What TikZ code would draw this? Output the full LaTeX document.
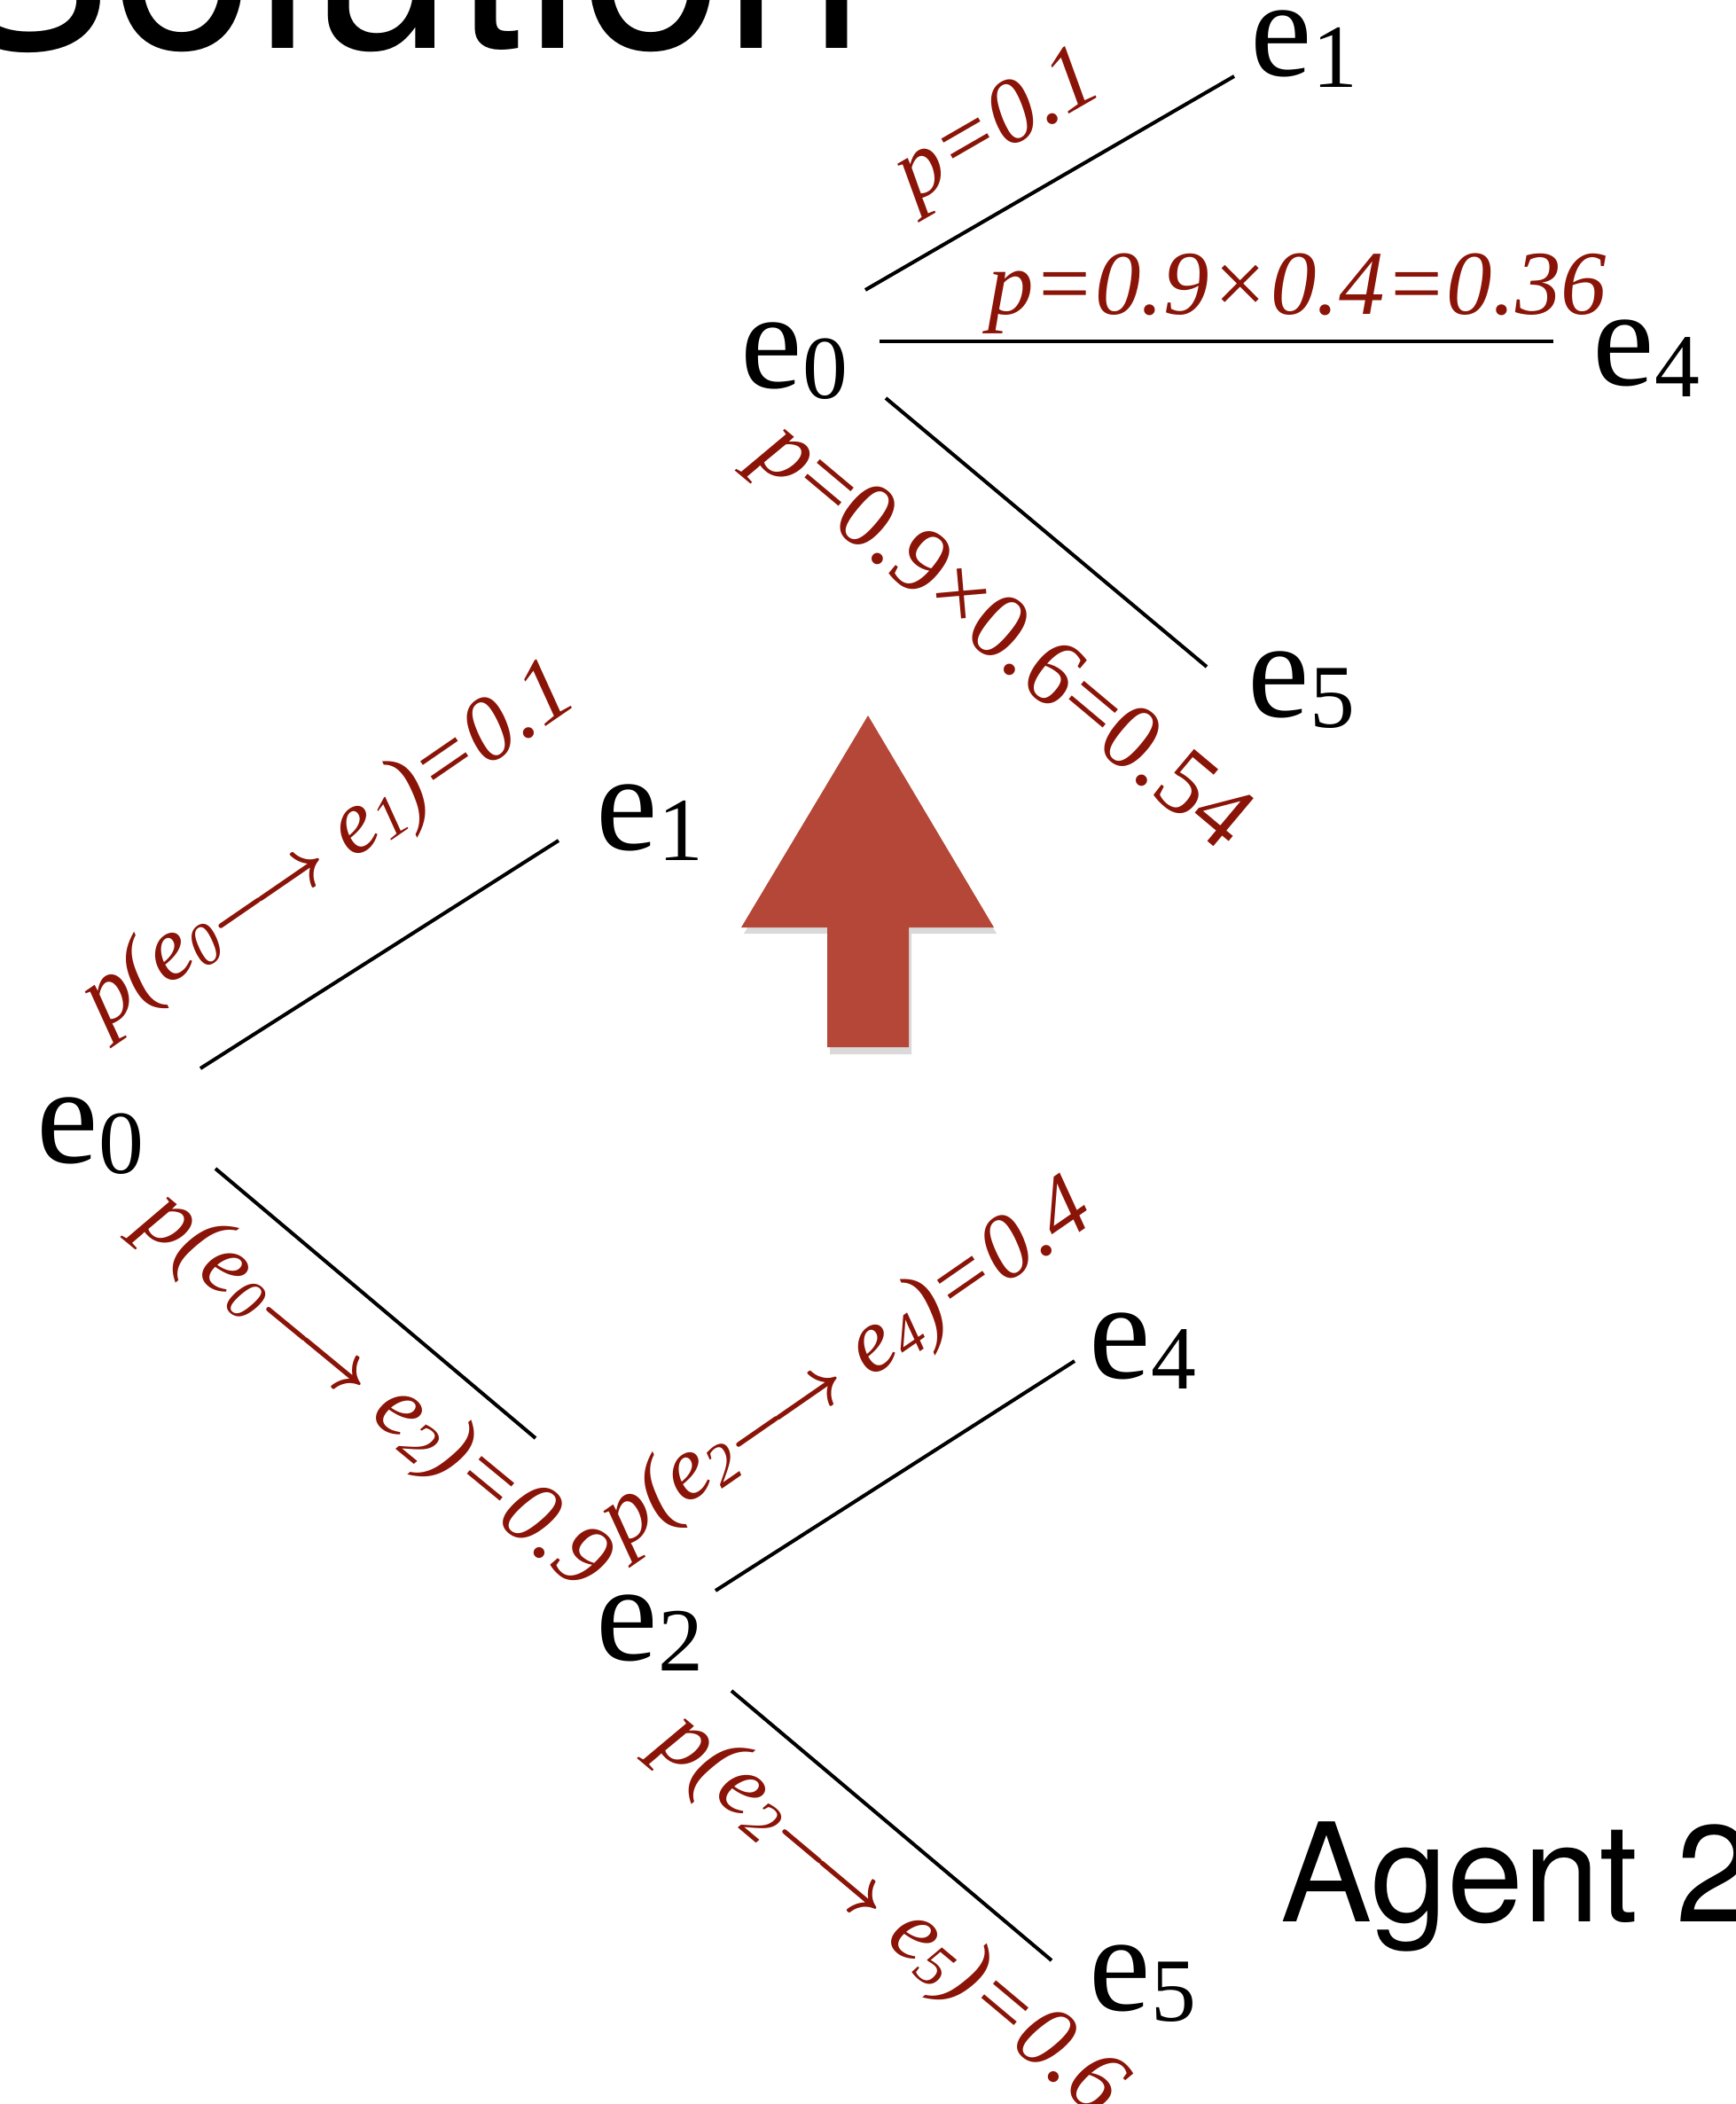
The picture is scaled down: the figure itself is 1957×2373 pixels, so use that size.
\documentclass[tikz,border=0pt]{standalone}
\usepackage{fontspec}
\setmainfont{Liberation Serif}
\newfontfamily\heros{TeX Gyre Heros}
\definecolor{probred}{RGB}{138,20,8}
\definecolor{arrowred}{RGB}{180,71,55}
\newcommand{\lo}[1]{\raisebox{-.08em}{\scalebox{.65}{#1}}}
\newcommand{\goes}{\scalebox{.92}[1]{\boldmath$\longrightarrow$}}

\begin{document}
\begin{tikzpicture}[x=0.01cm,y=-0.01cm]
\tikzstyle{every node}+=[inner sep=0pt]
\tikzstyle{ev}=[anchor=base west, font=\fontsize{44.5}{50}\selectfont]
\tikzstyle{prob}=[anchor=base, text=probred, font=\itshape\fontsize{29.3}{32}\selectfont]
\tikzstyle{edge}=[black, line width=1.15pt]
\clip (0,0) rectangle (1957,2373);

\node [anchor=base east, font=\heros\fontsize{82}{90}\selectfont] (title) at (977,55) {Solution};
\node [anchor=base west, font=\heros\fontsize{44}{50}\selectfont] (agent) at (1444,2167) {Agent 2};

% lower tree
\node [ev] (l0) at (41,1311) {e\lo{0}};
\node [ev] (l1) at (672,958) {e\lo{1}};
\node [ev] (l2) at (672,1872) {e\lo{2}};
\node [ev] (l4) at (1228,1554) {e\lo{4}};
\node [ev] (l5) at (1228,2267) {e\lo{5}};
\draw [edge] ([shift={(185,-106)}]l0.base west) -- ([shift={(-42,-10)}]l1.base west);
\draw [edge] ([shift={(202,7)}]l0.base west) -- ([shift={(-68,-250)}]l2.base west);
\draw [edge] ([shift={(135,-78)}]l2.base west) -- ([shift={(-16,-19)}]l4.base west);
\draw [edge] ([shift={(153,35)}]l2.base west) -- ([shift={(-42,-56)}]l5.base west);
\node [prob, rotate=34.5] (p01) at (386,977) {p(e\lo{0}\goes\ e\lo{1})=0.1};
\node [prob, rotate=-39.5] (p02) at (406,1590) {p(e\lo{0}\goes\ e\lo{2})=0.9};
\node [prob, rotate=34.7] (p24) at (970,1562) {p(e\lo{2}\goes\ e\lo{4})=0.4};
\node [prob, rotate=-40] (p25) at (987,2180) {p(e\lo{2}\goes\ e\lo{5})=0.6};

% merged tree
\node [ev] (u0) at (835,437) {e\lo{0}};
\node [ev] (u1) at (1410,86) {e\lo{1}};
\node [ev] (u4) at (1796,435) {e\lo{4}};
\node [ev] (u5) at (1407,808) {e\lo{5}};
\draw [edge] ([shift={(141,-110)}]u0.base west) -- ([shift={(-18,0)}]u1.base west);
\draw [edge] ([shift={(157,-52)}]u0.base west) -- ([shift={(-44,-50)}]u4.base west);
\draw [edge] ([shift={(164,12)}]u0.base west) -- ([shift={(-46,-56)}]u5.base west);
\node [prob, rotate=30] (q01) at (1139,167) {p=0.1};
\node [prob] (q04) at (1463,355) {p=0.9×0.4=0.36};
\node [prob, rotate=-40, font=\fontsize{30.5}{32}\selectfont] (q05) at (1113,740) {\textit{p}=0.9×0.6=0.54};

% big arrow
\fill [black, opacity=.15] (981,815) -- (1124,1053) -- (1028,1053) -- (1028,1189) -- (936,1189) -- (936,1053) -- (839,1053) -- cycle;
\fill [arrowred] (979,807) -- (1121,1046) -- (1025,1046) -- (1025,1181) -- (933,1181) -- (933,1046) -- (836,1046) -- cycle;
\end{tikzpicture}
\end{document}
